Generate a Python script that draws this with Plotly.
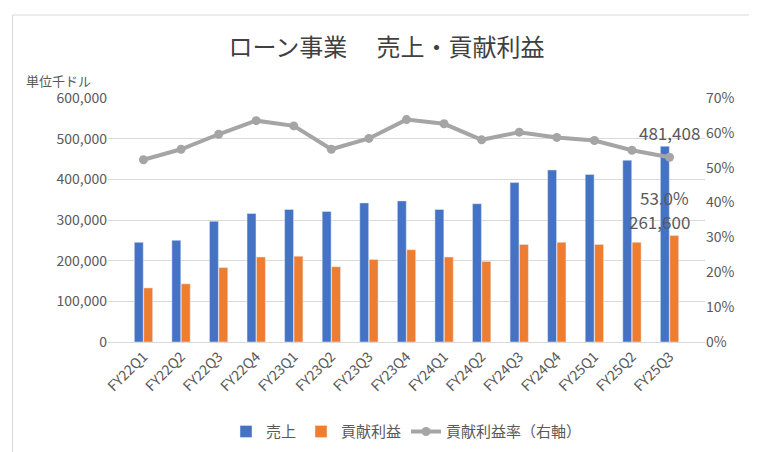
import plotly.graph_objects as go

quarters = ["FY22Q1", "FY22Q2", "FY22Q3", "FY22Q4", "FY23Q1", "FY23Q2", "FY23Q3", "FY23Q4",
            "FY24Q1", "FY24Q2", "FY24Q3", "FY24Q4", "FY25Q1", "FY25Q2", "FY25Q3"]
sales = [245000, 250000, 297000, 316000, 326000, 321000, 342000, 347000,
         326000, 340000, 392000, 423000, 412000, 447000, 481408]
contrib = [133000, 143000, 183000, 209000, 211000, 185000, 203000, 227000,
           209000, 198000, 240000, 245000, 240000, 245000, 261600]
rate = [52.3, 55.3, 59.6, 63.5, 62.0, 55.3, 58.4, 63.8, 62.6, 58.0, 60.2, 58.7, 57.8, 55.0, 53.0]

font = "Noto Sans CJK JP"
fig = go.Figure()
fig.add_bar(x=quarters, y=sales, name="売上", marker_color="#4472C4")
fig.add_bar(x=quarters, y=contrib, name="貢献利益", marker_color="#ED7D31")
fig.add_scatter(x=quarters, y=rate, name="貢献利益率（右軸）", yaxis="y2", mode="lines+markers",
                line=dict(color="#A5A5A5", width=4), marker=dict(size=9, color="#A5A5A5"))

lab = dict(showarrow=False, font=dict(size=17, color="#595959", family=font))
fig.add_annotation(x=quarters[-1], y=sales[-1], text=f"{sales[-1]:,}", yshift=14, **lab)
fig.add_annotation(x=quarters[-1], y=contrib[-1], text=f"{contrib[-1]:,}", yshift=14, xshift=-10, **lab)
fig.add_annotation(x=quarters[-1], y=rate[-1], yref="y2", text=f"{rate[-1]:.1f}%", yshift=-40, xshift=-5, **lab)

fig.update_layout(
    width=757, height=452, paper_bgcolor="white", plot_bgcolor="white",
    font=dict(family=font, color="#595959", size=14),
    title=dict(text="ローン事業　 売上・貢献利益", x=0.5, y=0.93, font=dict(size=24, color="#404040")),
    barmode="group", bargap=0.5, bargroupgap=0.05,
    margin=dict(l=100, r=60, t=90, b=105),
    legend=dict(orientation="h", x=0.5, xanchor="center", y=-0.3, font=dict(size=15)),
    xaxis=dict(tickangle=-45, showline=True, linecolor="#D9D9D9"),
    yaxis=dict(range=[0, 600000], dtick=100000, tickformat=",", gridcolor="#D9D9D9", zeroline=False),
    yaxis2=dict(range=[0, 70], dtick=10, ticksuffix="%", overlaying="y", side="right", showgrid=False),
    shapes=[dict(type="rect", xref="paper", yref="paper", x0=-0.16, x1=1.09, y0=-0.47, y1=1.34,
                 line=dict(color="#D9D9D9", width=1))],
)
fig.add_annotation(xref="paper", yref="paper", x=-0.14, y=1.12, text="単位千ドル", showarrow=False,
                   xanchor="left", font=dict(size=13))
fig.write_html("out.html")
